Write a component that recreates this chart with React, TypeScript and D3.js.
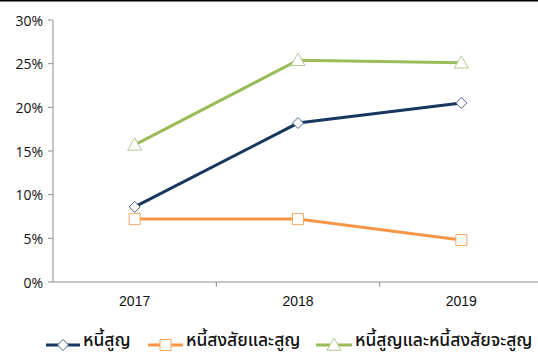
import React from "react";
import * as d3 from "d3";

const categories = ["2017", "2018", "2019"];
const badDebt = [8.6, 18.2, 20.5];
const doubtfulDebt = [7.2, 7.2, 4.8];
const totalDebt = [15.7, 25.4, 25.1];
const yTicks = [0, 5, 10, 15, 20, 25, 30];
const seriesNames = ["หนี้สูญ", "หนี้สงสัยและสูญ", "หนี้สูญและหนี้สงสัยจะสูญ"];

const W = 538;
const H = 355;
const left = 53;
const top = 20;
const bottom = 282;

export default function App() {
  const x = d3.scaleBand<string>().domain(categories).range([left, 543]).padding(0);
  const y = d3.scaleLinear().domain([0, 30]).range([bottom, top]);
  const cx = (c: string) => (x(c) ?? 0) + x.bandwidth() / 2;
  const line = d3
    .line<number>()
    .x((_, i) => cx(categories[i]))
    .y((d) => y(d));

  const series = [
    { name: seriesNames[0], data: badDebt, color: "#17375E", mstroke: "#4A6384", marker: "diamond" },
    { name: seriesNames[1], data: doubtfulDebt, color: "#F79646", mstroke: "#F3A868", marker: "square" },
    { name: seriesNames[2], data: totalDebt, color: "#9BBB59", mstroke: "#B4C994", marker: "triangle" },
  ];

  const markerPath = (type: string, px: number, py: number) => {
    if (type === "diamond") {
      const r = 5.5;
      return `M${px},${py - r}L${px + r},${py}L${px},${py + r}L${px - r},${py}Z`;
    }
    if (type === "square") {
      const s = 5.5;
      return `M${px - s},${py - s}H${px + s}V${py + s}H${px - s}Z`;
    }
    const s = 7;
    return `M${px},${py - s}L${px + s},${py + s * 0.75}L${px - s},${py + s * 0.75}Z`;
  };

  const legendItems = [
    { x0: 46, tx: 83 },
    { x0: 148, tx: 186 },
    { x0: 316, tx: 355 },
  ];
  const legendY = 345;

  const axisFont = "'Open Sans', 'Noto Sans', sans-serif";
  const thaiFont = "'Noto Sans Thai', 'Noto Sans', 'DejaVu Sans', sans-serif";

  return (
    <svg
      width={W}
      height={H}
      style={{ position: "absolute", left: 0, top: 0, background: "#fff" }}
    >
      <rect x={0} y={0} width={W} height={H} fill="#fff" />
      <line x1={0} x2={W} y1={0.75} y2={0.75} stroke="#000" strokeWidth={1.5} />
      {/* y axis */}
      <line x1={left} x2={left} y1={top} y2={bottom} stroke="#8c8c8c" strokeWidth={1} />
      {yTicks.map((t) => (
        <g key={t}>
          <line x1={left - 5} x2={left} y1={y(t)} y2={y(t)} stroke="#8c8c8c" />
          <text
            x={left - 10}
            y={y(t)}
            textAnchor="end"
            dominantBaseline="central"
            fontFamily={axisFont}
            fontSize={14}
            fill="#111"
          >
            {t}%
          </text>
        </g>
      ))}
      {/* x axis */}
      <line x1={left} x2={W} y1={bottom} y2={bottom} stroke="#8c8c8c" strokeWidth={1} />
      {categories.map((c, i) =>
        i > 0 ? (
          <line
            key={"t" + c}
            x1={x(c)}
            x2={x(c)}
            y1={bottom}
            y2={bottom + 5}
            stroke="#8c8c8c"
          />
        ) : null
      )}
      {categories.map((c) => (
        <text
          key={c}
          x={cx(c)}
          y={bottom + 19}
          textAnchor="middle"
          dominantBaseline="central"
          fontFamily="Arial, 'Liberation Sans', sans-serif"
          fontSize={14}
          fill="#111"
        >
          {c}
        </text>
      ))}
      {/* series */}
      {series.map((s) => (
        <g key={s.name}>
          <path d={line(s.data) ?? ""} fill="none" stroke={s.color} strokeWidth={3} />
          {s.data.map((v, i) => (
            <path
              key={i}
              d={markerPath(s.marker, cx(categories[i]), y(v))}
              fill="#fff"
              stroke={s.mstroke}
              strokeWidth={1}
            />
          ))}
        </g>
      ))}
      {/* legend */}
      {series.map((s, i) => {
        const it = legendItems[i];
        const mx = it.x0 + (it.tx - 3 - it.x0) / 2;
        return (
          <g key={"l" + s.name}>
            <line x1={it.x0} x2={it.tx - 3} y1={legendY} y2={legendY} stroke={s.color} strokeWidth={3} />
            <path d={markerPath(s.marker, mx, legendY)} fill="#fff" stroke={s.mstroke} strokeWidth={1} />
            <text
              x={it.tx}
              y={346}
              fontFamily={thaiFont}
              fontSize={17.5}
              fontWeight={500}
              fill="#111"
            >
              {s.name}
            </text>
          </g>
        );
      })}
    </svg>
  );
}
